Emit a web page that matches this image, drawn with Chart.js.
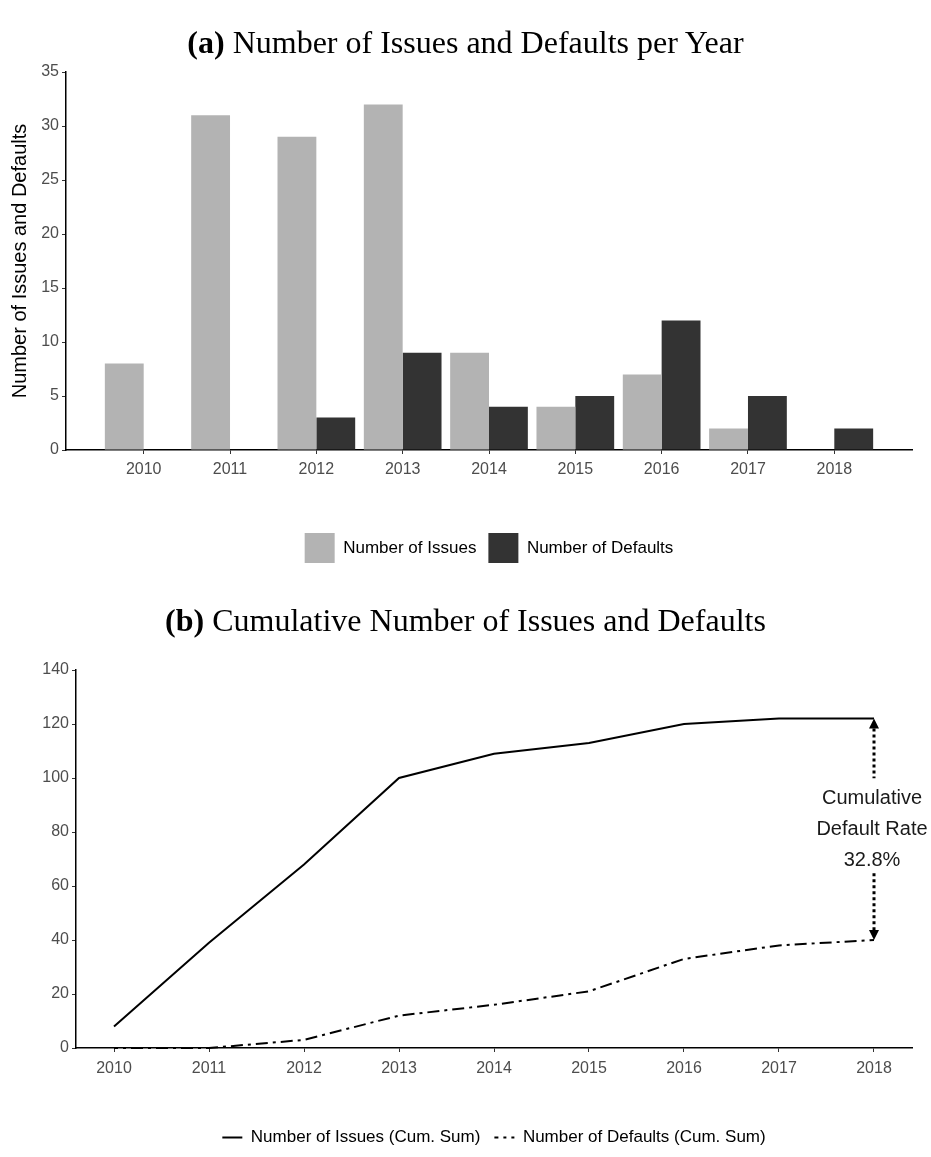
<!DOCTYPE html>
<html>
<head>
<meta charset="utf-8">
<script src="https://cdn.jsdelivr.net/npm/chart.js@4.4.1/dist/chart.umd.min.js"></script>
<style>
  body { margin: 0; background: #fff; }
  #page { position: relative; width: 931px; height: 1157px; }
  .title { position: absolute; left: 0; width: 931px; text-align: center; font-family: 'Liberation Serif', 'Times New Roman', serif; font-size: 32px; line-height: 40px; color: #000; }
  #top { position: absolute; left: 0; top: 0; }
  #bottom { position: absolute; left: 0; top: 585px; }
</style>
</head>
<body>
<div id="page">
  <canvas id="top" width="931" height="585"></canvas>
  <canvas id="bottom" width="931" height="572"></canvas>
  <div class="title" style="top:22px"><b>(a)</b> Number of Issues and Defaults per Year</div>
  <div class="title" style="top:600px"><b>(b)</b> Cumulative Number of Issues and Defaults</div>
</div>
<script>
  const years = [2010, 2011, 2012, 2013, 2014, 2015, 2016, 2017, 2018];
  const issues = [8, 31, 29, 32, 9, 4, 7, 2, 0];
  const defaults = [0, 0, 3, 9, 4, 5, 12, 5, 2];
  const issuesCum = [8, 39, 68, 100, 109, 113, 120, 122, 122];
  const defaultsCum = [0, 0, 3, 12, 16, 21, 33, 38, 40];

  Chart.defaults.font.family = "'Liberation Sans', Arial, sans-serif";

  // shared look of the axes (classic theme: no grid, black axis lines, small ticks)
  const gridOpts = { display: true, drawOnChartArea: false, drawTicks: true, tickLength: 4, color: '#333', lineWidth: 1, offset: false };
  const borderOpts = { display: true, color: '#000', width: 1.5 };
  const tickOpts = { color: '#4d4d4d', font: { size: 16 }, padding: 3, maxRotation: 0, autoSkip: false };
  const yearTicks = s => { s.ticks = years.map(v => ({ value: v })); };

  // top: bars per year
  new Chart(document.getElementById('top'), {
    type: 'bar',
    data: {
      labels: years,
      datasets: [
        { label: 'Number of Issues', data: issues, backgroundColor: '#b3b3b3', categoryPercentage: 0.9, barPercentage: 1 },
        { label: 'Number of Defaults', data: defaults, backgroundColor: '#333333', categoryPercentage: 0.9, barPercentage: 1 }
      ]
    },
    options: {
      responsive: false,
      animation: false,
      devicePixelRatio: 1,
      layout: { padding: { top: 72, right: 19, bottom: 12, left: 0 } },
      plugins: {
        legend: {
          position: 'bottom',
          fullSize: false,
          labels: { boxWidth: 30, boxHeight: 30, color: '#000', font: { size: 17 }, padding: 12 }
        },
        tooltip: { enabled: false }
      },
      scales: {
        x: {
          type: 'linear', min: 2009.1, max: 2018.9, offset: false,
          grid: gridOpts, border: borderOpts,
          ticks: Object.assign({}, tickOpts, { padding: 6, callback: v => String(v) }),
          afterBuildTicks: yearTicks,
          afterFit: s => { s.height = 71; }
        },
        y: {
          min: 0, max: 35,
          grid: gridOpts, border: borderOpts,
          ticks: Object.assign({}, tickOpts, { stepSize: 5 }),
          title: { display: true, text: 'Number of Issues and Defaults', color: '#000', font: { size: 20 }, padding: { top: 8, bottom: 0 } },
          afterFit: s => { s.width = 66; }
        }
      }
    }
  });

  // dotted double arrow with the cumulative default rate at the last year
  const rateNote = {
    id: 'rateNote',
    afterDatasetsDraw(chart) {
      const { ctx, scales: { x, y } } = chart;
      const last = years.length - 1;
      const px = x.getPixelForValue(years[last]);
      const yTop = y.getPixelForValue(issuesCum[last]);
      const yBot = y.getPixelForValue(defaultsCum[last]);
      const mid = (yTop + yBot) / 2;
      const rate = (defaultsCum[last] / issuesCum[last] * 100).toFixed(1) + '%';
      ctx.save();
      ctx.strokeStyle = '#000';
      ctx.fillStyle = '#000';
      ctx.lineWidth = 3;
      ctx.setLineDash([3, 3]);
      ctx.beginPath();
      ctx.moveTo(px, yTop + 10); ctx.lineTo(px, mid - 51);
      ctx.moveTo(px, mid + 44); ctx.lineTo(px, yBot - 10);
      ctx.stroke();
      ctx.setLineDash([]);
      ctx.beginPath();
      ctx.moveTo(px, yTop); ctx.lineTo(px - 5, yTop + 10); ctx.lineTo(px + 5, yTop + 10); ctx.closePath();
      ctx.moveTo(px, yBot); ctx.lineTo(px - 5, yBot - 10); ctx.lineTo(px + 5, yBot - 10); ctx.closePath();
      ctx.fill();
      ctx.font = "20px 'Liberation Sans', Arial, sans-serif";
      ctx.fillStyle = '#1a1a1a';
      ctx.textAlign = 'center';
      ctx.textBaseline = 'middle';
      ['Cumulative', 'Default Rate', rate].forEach((t, i) => ctx.fillText(t, px - 2, mid + (i - 1) * 31));
      ctx.restore();
    }
  };

  // legend symbols: take the dash from the dataset line, not from the point
  const lineLegend = chart => Chart.defaults.plugins.legend.labels.generateLabels(chart).map((item, i) => {
    const ds = chart.data.datasets[i];
    return Object.assign(item, { lineDash: ds.borderDash || [], lineDashOffset: ds.borderDashOffset || 0, lineWidth: ds.borderWidth });
  });

  // bottom: cumulative sums
  new Chart(document.getElementById('bottom'), {
    type: 'line',
    data: {
      labels: years,
      datasets: [
        { label: 'Number of Issues (Cum. Sum)', data: issuesCum, borderColor: '#000', borderWidth: 2, pointRadius: 0, tension: 0, fill: false, clip: 4 },
        { label: 'Number of Defaults (Cum. Sum)', data: defaultsCum, borderColor: '#000', borderWidth: 2, borderDash: [12, 5, 3, 5], borderDashOffset: 8, pointRadius: 0, tension: 0, fill: false, clip: 4 }
      ]
    },
    options: {
      responsive: false,
      animation: false,
      devicePixelRatio: 1,
      layout: { padding: { top: 85, right: 19, bottom: 1, left: 0 } },
      plugins: {
        legend: {
          position: 'bottom',
          fullSize: false,
          labels: { usePointStyle: true, pointStyle: 'line', pointStyleWidth: 20, color: '#000', font: { size: 17 }, padding: 14, generateLabels: lineLegend }
        },
        tooltip: { enabled: false }
      },
      scales: {
        x: {
          type: 'linear', min: 2009.6, max: 2018.4, offset: false,
          grid: gridOpts, border: borderOpts,
          ticks: Object.assign({}, tickOpts, { padding: 7, callback: v => String(v) }),
          afterBuildTicks: yearTicks,
          afterFit: s => { s.height = 67; }
        },
        y: {
          min: 0, max: 140,
          grid: gridOpts, border: borderOpts,
          ticks: Object.assign({}, tickOpts, { stepSize: 20 }),
          afterFit: s => { s.width = 76; }
        }
      }
    },
    plugins: [rateNote]
  });
</script>
</body>
</html>
